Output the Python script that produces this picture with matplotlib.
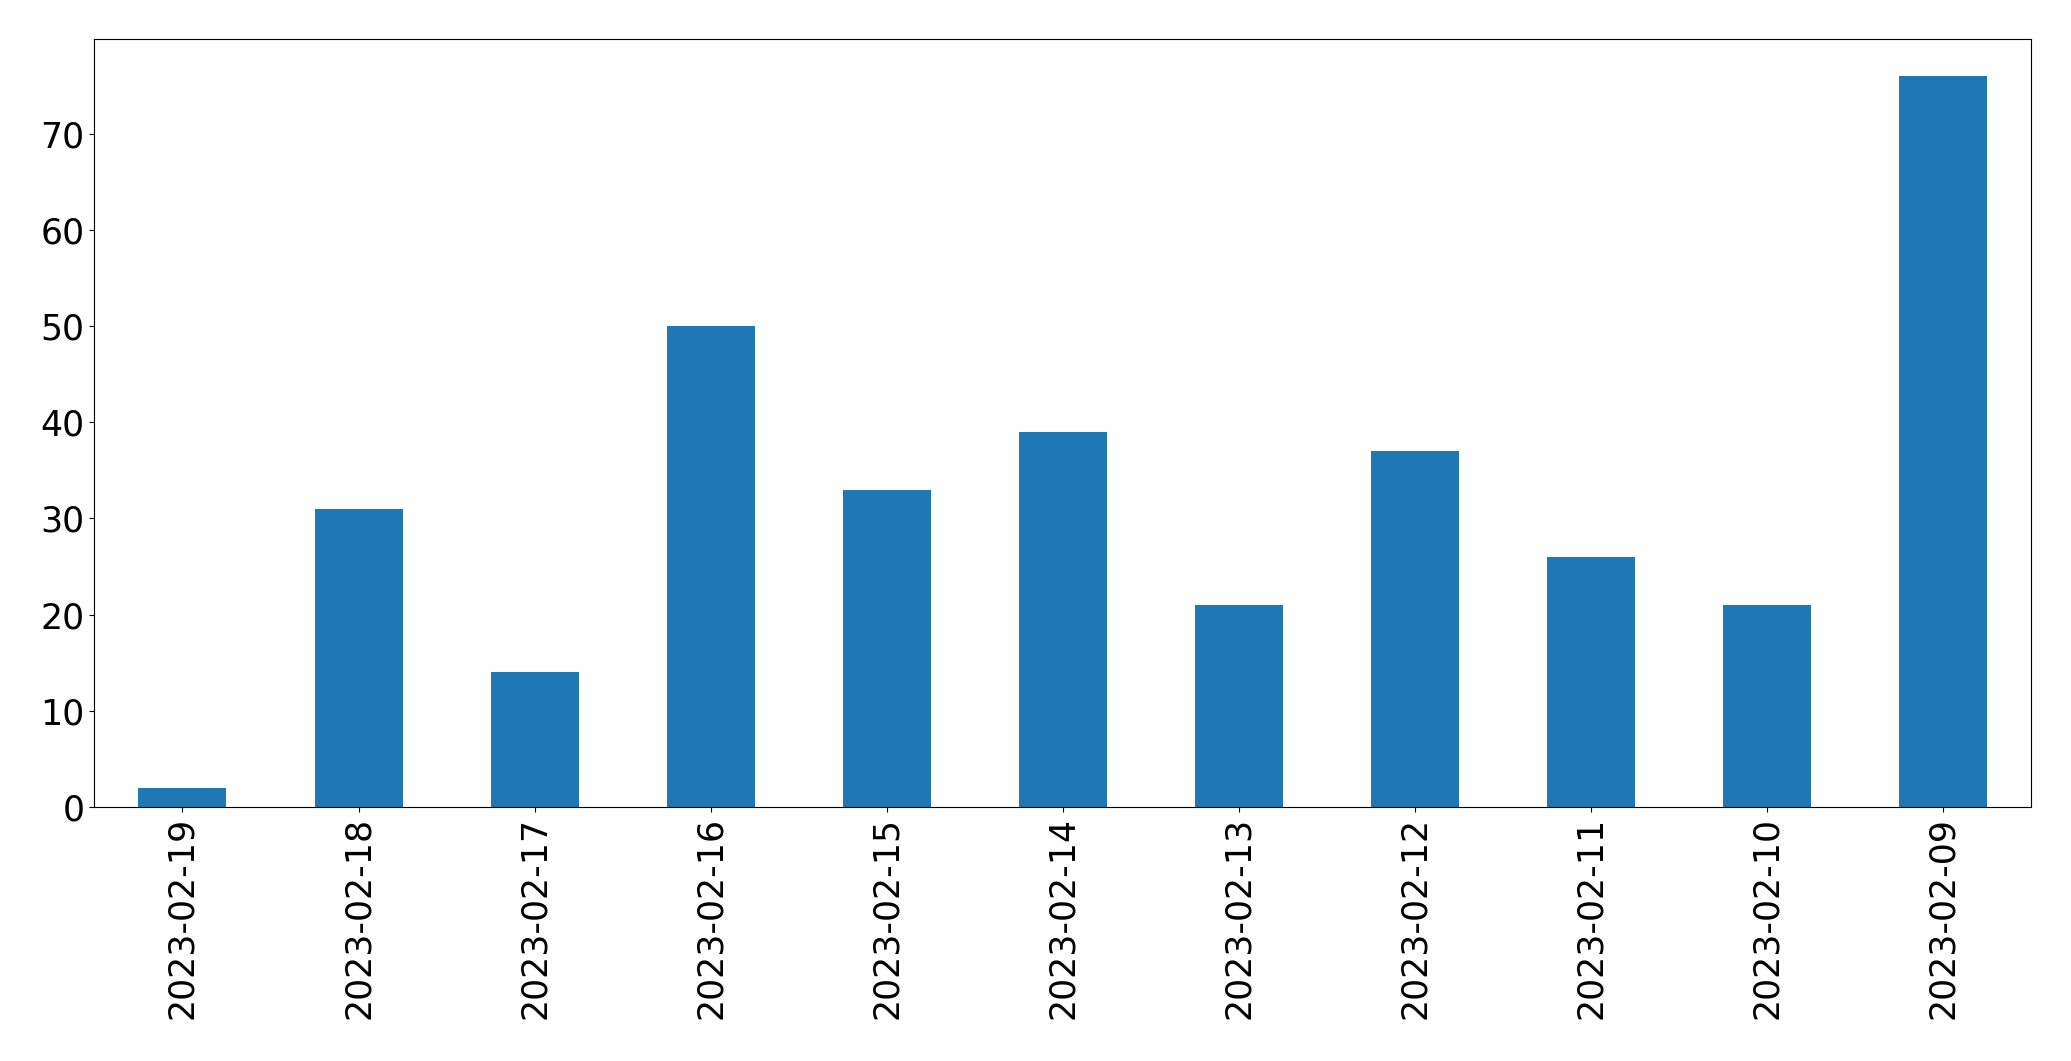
import matplotlib
matplotlib.use("Agg")
import matplotlib.pyplot as plt

# daily counts, in the order shown (newest first)
dates = ["2023-02-19", "2023-02-18", "2023-02-17", "2023-02-16", "2023-02-15",
         "2023-02-14", "2023-02-13", "2023-02-12", "2023-02-11", "2023-02-10",
         "2023-02-09"]
counts = [2, 31, 14, 50, 33, 39, 21, 37, 26, 21, 76]

plt.rcParams["font.size"] = 25

fig, ax = plt.subplots(figsize=(20.71, 10.61), dpi=100)
fig.subplots_adjust(left=0.0456, right=0.9807, top=0.963, bottom=0.2394)

x = range(len(dates))
ax.bar(x, counts, width=0.5, color="#1f77b4")
ax.set_xticks(list(x))
ax.set_xticklabels(dates, rotation=90)
ax.set_xlim(-0.5, len(dates) - 0.5)

fig.savefig("out.png", dpi=100)
